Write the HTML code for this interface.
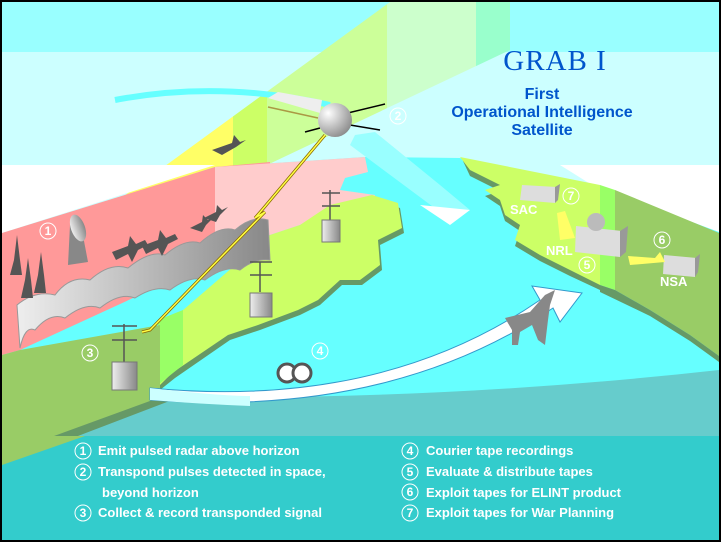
<!DOCTYPE html>
<html><head><meta charset="utf-8"><style>
html,body{margin:0;padding:0;background:#000}
svg{display:block}
text{font-family:"Liberation Sans",sans-serif}
text.serif{font-family:"Liberation Serif",serif}
</style></head><body>
<svg width="721" height="542" viewBox="0 0 721 542" xmlns="http://www.w3.org/2000/svg">
<defs>
<linearGradient id="band" gradientUnits="userSpaceOnUse" x1="0" y1="0" x2="721" y2="0">
<stop offset="0" stop-color="#ffff66"/><stop offset="0.323" stop-color="#ffff66"/>
<stop offset="0.323" stop-color="#ccff66"/><stop offset="0.37" stop-color="#ccff66"/>
<stop offset="0.37" stop-color="#ccff99"/><stop offset="0.537" stop-color="#ccff99"/>
<stop offset="0.537" stop-color="#ccffcc"/><stop offset="0.66" stop-color="#ccffcc"/>
<stop offset="0.66" stop-color="#99ffcc"/><stop offset="1" stop-color="#99ffcc"/>
</linearGradient>
<linearGradient id="gray" x1="0" y1="0" x2="1" y2="0">
<stop offset="0" stop-color="#eeeeee"/><stop offset="1" stop-color="#888888"/>
</linearGradient>
<radialGradient id="sat" cx="0.3" cy="0.3" r="0.8">
<stop offset="0" stop-color="#ffffff"/><stop offset="1" stop-color="#888888"/>
</radialGradient>
</defs>
<rect width="721" height="542" fill="#000"/>
<rect x="2" y="2" width="717" height="538" fill="#ccffff"/>
<rect x="2" y="2" width="717" height="50" fill="#99ffff"/>
<polygon points="80,228 390,2 510,2 510,50 267,165 233,178" fill="url(#band)"/>
<polygon points="80,228 233,120 233,178" fill="#ffff66"/>
<path d="M115,100 Q220,80 330,105" stroke="#66ffff" stroke-width="6" fill="none"/>
<polygon points="2,165 215,165 2,233" fill="#fff"/>
<polygon points="560,165 719,165 719,235 600,190" fill="#fff"/>
<path d="M2,235 L215,167 L365,157 L460,158 L600,188 L719,232 L719,400 L2,400 Z" fill="#66ffff"/>
<path d="M355,135 L375,132 L440,185 L470,210 L440,212 L350,145 Z" fill="#99ffff"/>
<polygon points="420,205 470,210 450,225" fill="#fff"/>
<polygon points="2,233 215,167 270,162 270,235 20,350 2,355" fill="#ff9999"/>
<polygon points="215,167 365,157 368,172 345,178 340,190 375,195 372,205 330,208 300,225 270,235 215,260" fill="#ffcccc"/>
<path d="M270,239 L300,229 L330,209 L372,199 L400,208 L404,233 L380,245 L382,270 L362,285 L342,285 L320,305 L300,315 L260,330 L230,340 L175,378 L160,390 L160,335 Z" fill="#669966"/>
<path d="M270,235 L300,225 L330,205 L372,195 L398,203 L402,228 L378,240 L380,265 L360,280 L340,280 L318,300 L298,310 L258,325 L228,335 L172,373 L160,385 L160,330 Z" fill="#ccff66"/>
<polygon points="158,320 183,310 183,365 158,385" fill="#99ff66"/>
<polygon points="2,355 20,350 160,325 160,390 180,397 2,465" fill="#99cc66"/>
<polygon points="2,455 180,390 185,398 2,465" fill="#669966"/>
<path d="M463,161 L600,189 L600,290 L570,276 L540,261 L515,246 L520,231 L505,221 L500,206 L485,196 L500,191 L470,176 Z" fill="#669966"/>
<path d="M460,157 L600,185 L600,285 L570,270 L540,255 L515,240 L520,225 L505,215 L500,200 L485,190 L500,185 L470,170 Z" fill="#ccff66"/>
<polygon points="600,185 615,190 615,290 600,285" fill="#99ff66"/>
<polygon points="615,190 719,233 719,356 690,335 650,310 615,290" fill="#99cc66"/>
<polygon points="600,285 615,290 650,310 690,335 719,356 719,362 690,341 650,316 600,292" fill="#669966"/>
<path d="M180,397 Q450,400 719,370 L719,436 L2,436 L2,465 Z" fill="#66cccc"/>
<rect x="2" y="436" width="717" height="104" fill="#33cccc"/>
<polygon points="2,436 2,465 85,436" fill="#99cc66"/>
<path d="M150,388 Q380,410 540,300 L532,286 L582,293 L560,322 L553,308 Q390,418 150,400 Z" fill="#fff" stroke="#3399cc" stroke-width="1"/>
<path d="M150,388 Q220,396 250,396 L250,406 Q200,404 150,400 Z" fill="#ccffff"/>
<path d="M17,305 Q35,290 55,295 Q70,275 90,280 Q110,262 128,268 Q150,250 165,255 Q185,238 200,243 Q220,225 235,230 Q252,215 268,220 L270,260 Q255,258 240,270 Q225,265 205,280 Q190,275 170,290 Q155,285 135,298 Q120,292 100,308 Q85,302 65,318 Q50,312 35,330 Q25,325 20,348 Z" fill="url(#gray)" stroke="#999" stroke-width="1"/>
<g fill="#555">
<polygon points="14,260 17,235 20,260 22,275 10,275"/>
<polygon points="25,280 28,258 31,280 33,298 21,298"/>
<polygon points="38,275 41,252 44,275 46,293 34,293"/>
</g>
<polygon points="70,225 80,220 88,262 68,265" fill="#888"/>
<ellipse cx="78" cy="228" rx="7" ry="14" fill="url(#gray)" transform="rotate(-20 78 228)"/>
<g fill="#555">
<path d="M112,252 L128,246 L130,236 L136,244 L145,240 L148,245 L138,250 L132,262 L128,254 L116,260 Z"/>
<path d="M142,246 L158,240 L160,230 L166,238 L175,234 L178,239 L168,244 L162,256 L158,248 L146,254 Z"/>
<path d="M190,228 L202,222 L203,215 L208,220 L214,217 L206,225 L202,232 Z"/>
<path d="M204,218 L216,212 L217,205 L222,210 L228,207 L220,215 L216,222 Z"/>
<path d="M212,150 L232,143 L234,135 L240,142 L246,140 L236,147 L222,155 Z"/>
<path d="M505,318 L530,312 L545,295 L555,290 L550,305 L548,320 L545,345 L538,340 L532,325 L520,332 L518,345 L512,345 L512,330 Z" fill="#888"/>
</g>
<polygon points="268,98 278,92 322,100 320,113" fill="#eeeeee"/>
<line x1="268" y1="107" x2="318" y2="118" stroke="#aa9944" stroke-width="1.5"/>
<line x1="327" y1="118" x2="385" y2="104" stroke="#000" stroke-width="1.5"/>
<line x1="350" y1="125" x2="380" y2="130" stroke="#000" stroke-width="1.5"/>
<line x1="305" y1="132" x2="320" y2="128" stroke="#000" stroke-width="1.5"/>
<circle cx="335" cy="120" r="17" fill="url(#sat)"/>
<polyline points="325,135 262,210 255,218 265,212 150,330 142,332" stroke="#886600" stroke-width="3" fill="none"/>
<polyline points="325,135 262,210 255,218 265,212 150,330 142,332" stroke="#ffff44" stroke-width="1.5" fill="none"/>
<g stroke="#555" stroke-width="1.5">
<line x1="330" y1="190" x2="330" y2="222"/><line x1="322" y1="193" x2="340" y2="193"/><line x1="322" y1="206" x2="340" y2="206"/>
<line x1="260" y1="262" x2="260" y2="292"/><line x1="250" y1="262" x2="272" y2="262"/><line x1="250" y1="275" x2="272" y2="275"/>
<line x1="124" y1="324" x2="124" y2="362"/><line x1="112" y1="326" x2="137" y2="326"/><line x1="112" y1="340" x2="137" y2="340"/>
</g>
<g fill="url(#gray)" stroke="#777">
<rect x="322" y="220" width="18" height="22"/>
<rect x="250" y="293" width="22" height="24"/>
<rect x="112" y="362" width="25" height="28"/>
</g>
<circle cx="287" cy="373" r="9" fill="#fff" stroke="#555" stroke-width="3"/>
<circle cx="302" cy="373" r="9" fill="#fff" stroke="#555" stroke-width="3"/>
<polygon points="522,185 557,187 555,203 520,200" fill="#ddd"/>
<polygon points="555,187 560,184 558,200 555,203" fill="#999"/>
<polygon points="576,226 622,231 620,257 575,252" fill="#ddd"/>
<polygon points="620,231 628,226 626,252 620,257" fill="#999"/>
<circle cx="596" cy="222" r="9" fill="#bbb"/>
<polygon points="664,255 697,258 695,277 663,274" fill="#ddd"/>
<polygon points="695,258 700,254 698,272 695,277" fill="#999"/>
<polygon points="557,213 565,211 575,238 560,240" fill="#ffff66"/>
<polygon points="628,256 655,258 660,252 665,262 630,265" fill="#ffff66"/>
<g fill="#fff" font-weight="bold" font-size="13">
<text x="510" y="214">SAC</text><text x="546" y="255">NRL</text><text x="660" y="286">NSA</text>
</g>
<g fill="none" stroke="#fff" stroke-width="1">
<circle cx="48" cy="231" r="8"/><circle cx="398" cy="116" r="8"/><circle cx="90" cy="353" r="8"/>
<circle cx="320" cy="351" r="8"/><circle cx="587" cy="265" r="8"/><circle cx="662" cy="240" r="8"/><circle cx="571" cy="196" r="8"/>
</g>
<g fill="#fff" font-size="12" font-weight="bold" text-anchor="middle">
<text x="48" y="235">1</text><text x="398" y="120">2</text><text x="90" y="357">3</text>
<text x="320" y="355">4</text><text x="587" y="269">5</text><text x="662" y="244">6</text><text x="571" y="200">7</text>
</g>
<text class="serif" x="555" y="70" text-anchor="middle" font-size="29" fill="#0055cc" letter-spacing="1">GRAB I</text>
<g fill="#0055cc" font-weight="bold" font-size="16" text-anchor="middle">
<text x="542" y="99">First</text><text x="542" y="117">Operational Intelligence</text><text x="542" y="135">Satellite</text>
</g>
<g fill="none" stroke="#fff" stroke-width="1">
<circle cx="83" cy="451" r="8"/><circle cx="83" cy="472" r="8"/><circle cx="83" cy="513" r="8"/>
<circle cx="410" cy="451" r="8"/><circle cx="410" cy="472" r="8"/><circle cx="410" cy="492" r="8"/><circle cx="410" cy="513" r="8"/>
</g>
<g fill="#fff" font-size="12" font-weight="bold" text-anchor="middle">
<text x="83" y="455">1</text><text x="83" y="476">2</text><text x="83" y="517">3</text>
<text x="410" y="455">4</text><text x="410" y="476">5</text><text x="410" y="496">6</text><text x="410" y="517">7</text>
</g>
<g fill="#fff" font-size="13" font-weight="bold">
<text x="98" y="455">Emit pulsed radar above horizon</text>
<text x="98" y="476">Transpond pulses detected in space,</text>
<text x="102" y="497">beyond horizon</text>
<text x="98" y="517">Collect &amp; record transponded signal</text>
<text x="426" y="455">Courier tape recordings</text>
<text x="426" y="476">Evaluate &amp; distribute tapes</text>
<text x="426" y="497">Exploit tapes for ELINT product</text>
<text x="426" y="517">Exploit tapes for War Planning</text>
</g>
</svg>
</body></html>
